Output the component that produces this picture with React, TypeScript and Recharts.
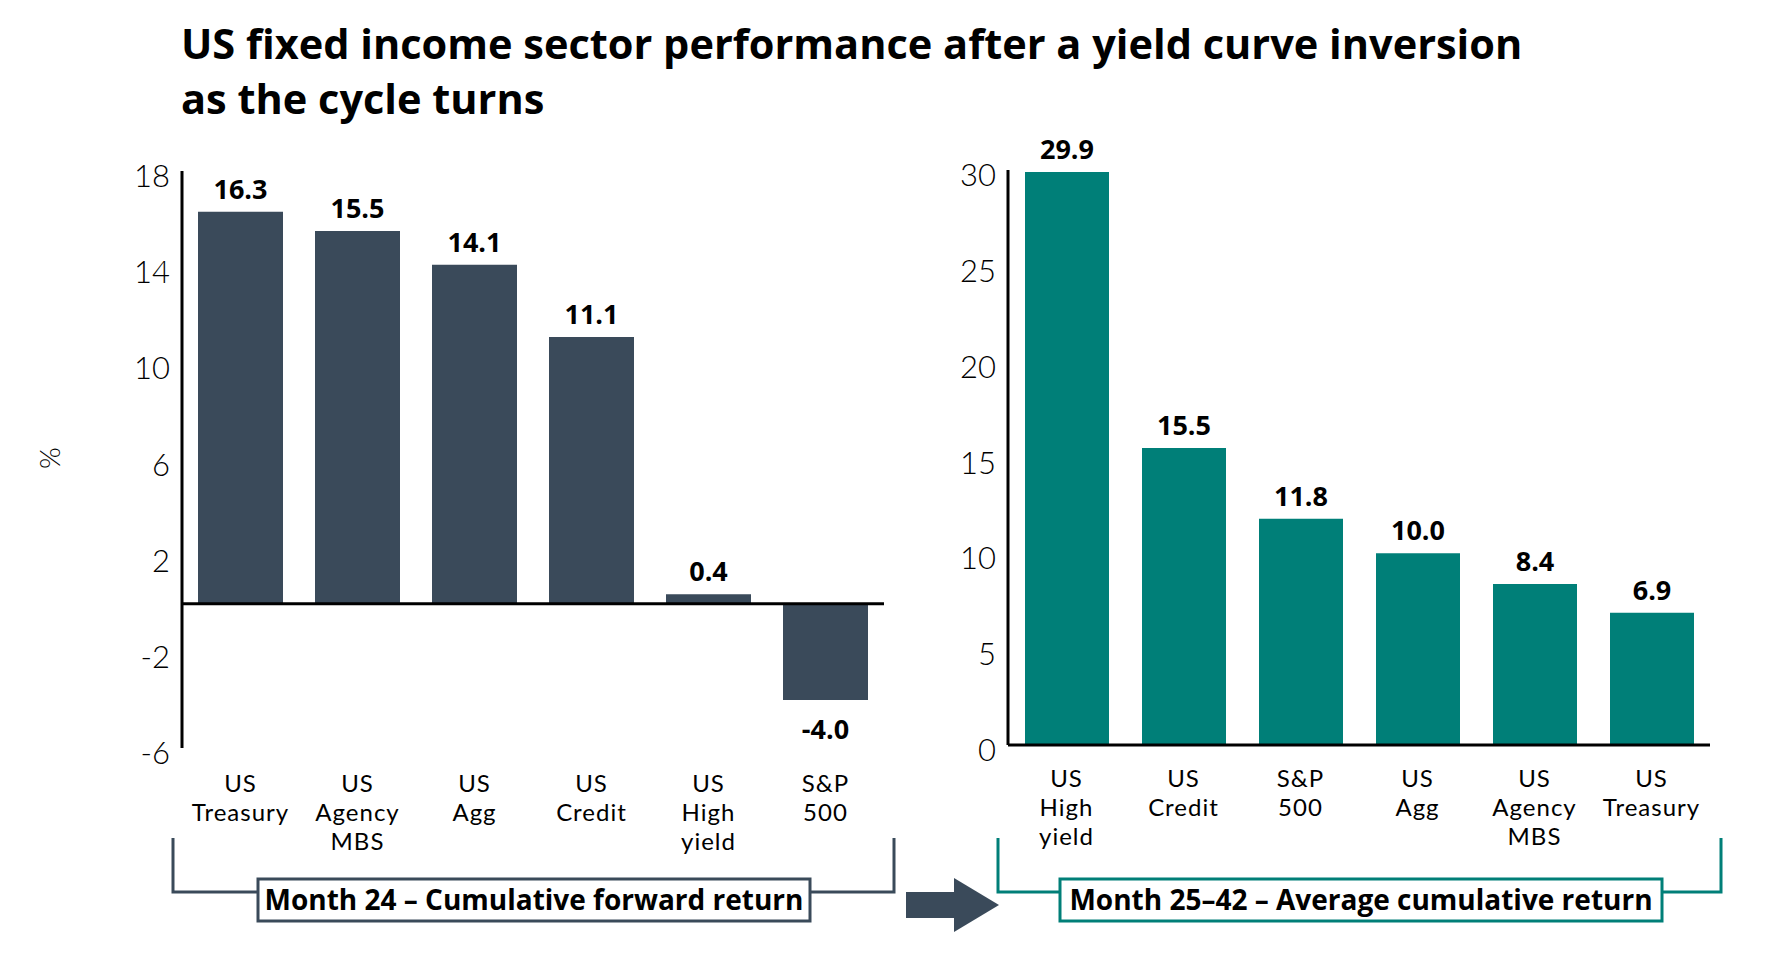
import React from 'react'
import { BarChart, Bar, XAxis, YAxis, ReferenceLine, LabelList } from 'recharts'

const LEFT_CATEGORIES = ['US\nTreasury', 'US\nAgency\nMBS', 'US\nAgg', 'US\nCredit', 'US\nHigh\nyield', 'S&P\n500']
const LEFT_VALUES = [16.3, 15.5, 14.1, 11.1, 0.4, -4.0]
const LEFT_TICKS = [-6, -2, 2, 6, 10, 14, 18]

const RIGHT_CATEGORIES = ['US\nHigh\nyield', 'US\nCredit', 'S&P\n500', 'US\nAgg', 'US\nAgency\nMBS', 'US\nTreasury']
const RIGHT_VALUES = [29.9, 15.5, 11.8, 10.0, 8.4, 6.9]
const RIGHT_TICKS = [0, 5, 10, 15, 20, 25, 30]

const TITLE_LINES = ['US fixed income sector performance after a yield curve inversion', 'as the cycle turns']
const LEFT_CAPTION = 'Month 24 \u2013 Cumulative forward return'
const RIGHT_CAPTION = 'Month 25\u201342 \u2013 Average cumulative return'

const SLATE = '#3A4A5A'
const TEAL = '#007F78'
const FONT = 'Lato, "Open Sans", sans-serif'
const BOLD_FONT = '"Open Sans", Lato, sans-serif'

const leftData = LEFT_CATEGORIES.map((name, i) => ({ name, value: LEFT_VALUES[i] }))
const rightData = RIGHT_CATEGORIES.map((name, i) => ({ name, value: RIGHT_VALUES[i] }))

function YTick({ x, y, payload }: any) {
  return (
    <text x={x - 4} y={y + 16} textAnchor="end" fontSize={31} fontWeight={300} fontFamily={FONT} fill="#000">
      {payload.value}
    </text>
  )
}

// multi-line category label under each band, one <text> per line
function XTick({ x, y, payload, dy }: any) {
  const lines = String(payload.value).split('\n')
  return (
    <g>
      {lines.map((l, i) => (
        <text
          key={i}
          x={x}
          y={y + dy + i * 29}
          textAnchor="middle"
          fontSize={24}
          letterSpacing={1}
          fontWeight={400}
          fontFamily={FONT}
          fill="#000"
        >
          {l}
        </text>
      ))}
    </g>
  )
}

function ValueLabel({ x, y, width, height, value }: any) {
  const top = Math.min(y, y + height)
  const bottom = Math.max(y, y + height)
  const ty = value < 0 ? bottom + 39 : top - 13
  return (
    <text x={x + width / 2} y={ty} textAnchor="middle" fontSize={27} fontWeight={700} fontFamily={BOLD_FONT} fill="#000">
      {value.toFixed(1)}
    </text>
  )
}

function LeftChart() {
  return (
    <BarChart width={900} height={975} data={leftData} margin={{ top: 171, right: 16, bottom: 167, left: 0 }}>
      <XAxis dataKey="name" height={60} axisLine={false} tickLine={false} interval={0} tick={<XTick dy={36} />} />
      <YAxis
        width={182}
        domain={[-6, 18]}
        ticks={LEFT_TICKS}
        interval={0}
        tickLine={false}
        axisLine={{ stroke: '#000', strokeWidth: 3 }}
        tick={<YTick />}
      />
      <Bar dataKey="value" fill={SLATE} barSize={85} isAnimationActive={false}>
        <LabelList dataKey="value" content={<ValueLabel />} />
      </Bar>
      <ReferenceLine y={0} stroke="#000" strokeWidth={3} />
    </BarChart>
  )
}

function RightChart() {
  return (
    <BarChart width={875} height={975} data={rightData} margin={{ top: 170, right: 65, bottom: 170, left: 0 }}>
      <XAxis
        dataKey="name"
        height={60}
        axisLine={{ stroke: '#000', strokeWidth: 3 }}
        tickLine={false}
        interval={0}
        tick={<XTick dy={34} />}
      />
      <YAxis
        width={108}
        domain={[0, 30]}
        ticks={RIGHT_TICKS}
        interval={0}
        tickLine={false}
        axisLine={{ stroke: '#000', strokeWidth: 3 }}
        tick={<YTick />}
      />
      <Bar dataKey="value" fill={TEAL} barSize={84} isAnimationActive={false}>
        <LabelList dataKey="value" content={<ValueLabel />} />
      </Bar>
    </BarChart>
  )
}

export default function App() {
  return (
    <div style={{ position: 'absolute', left: 0, top: 0, width: 1775, height: 975, background: '#fff', overflow: 'hidden' }}>
      <div style={{ position: 'absolute', left: 0, top: 0 }}>
        <LeftChart />
      </div>
      <div style={{ position: 'absolute', left: 900, top: 0 }}>
        <RightChart />
      </div>
      <svg width={1775} height={975} style={{ position: 'absolute', left: 0, top: 0, pointerEvents: 'none' }}>
        {TITLE_LINES.map((t, i) => (
          <text key={i} x={181} y={59 + i * 55} fontSize={41.5} fontWeight={700} fontFamily={BOLD_FONT} fill="#000">
            {t}
          </text>
        ))}
        <text
          transform="translate(49,458) rotate(-90)"
          textAnchor="middle"
          dominantBaseline="central"
          fontSize={28}
          fontWeight={300}
          fontFamily={FONT}
        >
          %
        </text>
        {/* left bracket + caption */}
        <path d="M173,838 V892 H894 V838" fill="none" stroke={SLATE} strokeWidth={3} />
        <rect x={258} y={879} width={552} height={42} fill="#fff" stroke={SLATE} strokeWidth={3} />
        <text x={534} y={910} textAnchor="middle" fontSize={28} fontWeight={700} fontFamily={BOLD_FONT} fill="#000">
          {LEFT_CAPTION}
        </text>
        {/* arrow */}
        <rect x={906} y={892} width={48} height={26} fill={SLATE} />
        <polygon points="954,878 999,905 954,932" fill={SLATE} />
        {/* right bracket + caption */}
        <path d="M998,838 V892 H1721 V838" fill="none" stroke={TEAL} strokeWidth={3} />
        <rect x={1060} y={879} width={602} height={42} fill="#fff" stroke={TEAL} strokeWidth={3} />
        <text x={1361} y={910} textAnchor="middle" fontSize={28} fontWeight={700} fontFamily={BOLD_FONT} fill="#000">
          {RIGHT_CAPTION}
        </text>
      </svg>
    </div>
  )
}
